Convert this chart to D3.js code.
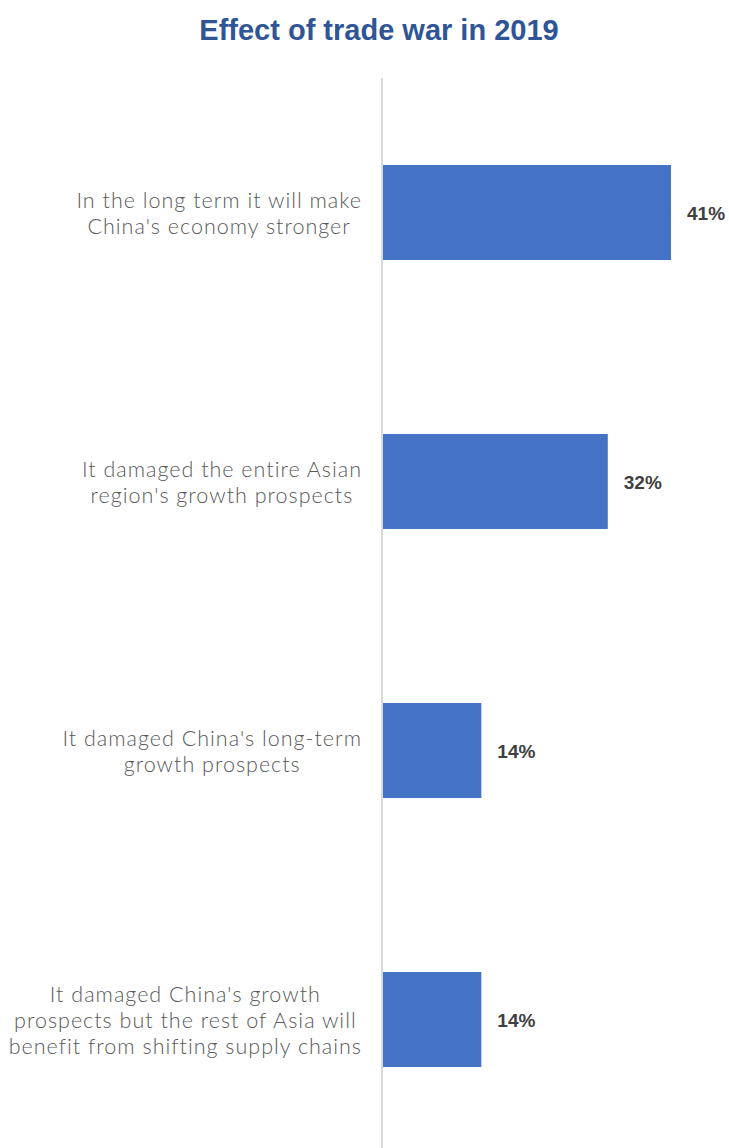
<!DOCTYPE html>
<html>
<head>
<meta charset="utf-8">
<script src="https://cdn.jsdelivr.net/npm/d3@7"></script>
<style>
  html, body { margin: 0; padding: 0; background: #fff; }
  svg { display: block; }
</style>
</head>
<body>
<svg id="chart" width="729" height="1148"></svg>
<script>
// Survey responses on the effect of the trade war
const categories = [
  ["In the long term it will make", "China's economy stronger"],
  ["It damaged the entire Asian", "region's growth prospects"],
  ["It damaged China's long-term", "growth prospects"],
  ["It damaged China's growth", "prospects but the rest of Asia will", "benefit from shifting supply chains"]
];
const values = [41, 32, 14, 14];
const valueLabels = ["41%", "32%", "14%", "14%"];
const title = "Effect of trade war in 2019";

const svg = d3.select("#chart");
const W = 729, H = 1148;
const x0 = 383;

const x = d3.scaleLinear().domain([0, 41]).range([x0, 671]);
const y = d3.scaleBand()
  .domain(d3.range(values.length))
  .range([78, 1154])
  .paddingInner(0.647)
  .paddingOuter(0.3235);

svg.append("text")
  .attr("x", 379).attr("y", 40)
  .attr("text-anchor", "middle")
  .attr("font-family", "Liberation Sans, Arial, sans-serif")
  .attr("font-weight", "bold")
  .attr("font-size", 29)
  .attr("fill", "#2F5597")
  .text(title);

// bars
svg.selectAll("rect.bar")
  .data(values)
  .join("rect")
  .attr("class", "bar")
  .attr("x", x0)
  .attr("y", (d, i) => y(i))
  .attr("width", d => x(d) - x0)
  .attr("height", y.bandwidth())
  .attr("fill", "#4472C4");

// category axis line
svg.append("line")
  .attr("x1", 382).attr("x2", 382)
  .attr("y1", 78).attr("y2", H)
  .attr("stroke", "#D9D9D9")
  .attr("stroke-width", 2);

// category labels: each block is centred, with its widest line ending at the label edge
const lineH = 26;
const labelRight = 362;
svg.selectAll("g.cat")
  .data(categories)
  .join("g")
  .attr("class", "cat")
  .each(function (lines, i) {
    const g = d3.select(this);
    const cy = y(i) + y.bandwidth() / 2;
    const startY = cy - (lines.length - 1) * lineH / 2 + 8;
    const texts = lines.map((ln, k) =>
      g.append("text")
        .attr("text-anchor", "middle")
        .attr("font-family", "Lato, sans-serif")
        .attr("font-weight", 300)
        .attr("font-size", 21.5)
        .attr("letter-spacing", 1.0)
        .attr("fill", "#595959")
        .attr("y", startY + k * lineH)
        .text(ln));
    const maxW = d3.max(texts, s => s.node().getComputedTextLength());
    texts.forEach(s => s.attr("x", labelRight - maxW / 2));
  });

// value labels
svg.selectAll("text.val")
  .data(values)
  .join("text")
  .attr("class", "val")
  .attr("x", d => x(d) + 16)
  .attr("y", (d, i) => y(i) + y.bandwidth() / 2 + 7)
  .attr("font-family", "Liberation Sans, Arial, sans-serif")
  .attr("font-weight", "bold")
  .attr("font-size", 19)
  .attr("fill", "#404040")
  .text((d, i) => valueLabels[i]);
</script>
</body>
</html>
